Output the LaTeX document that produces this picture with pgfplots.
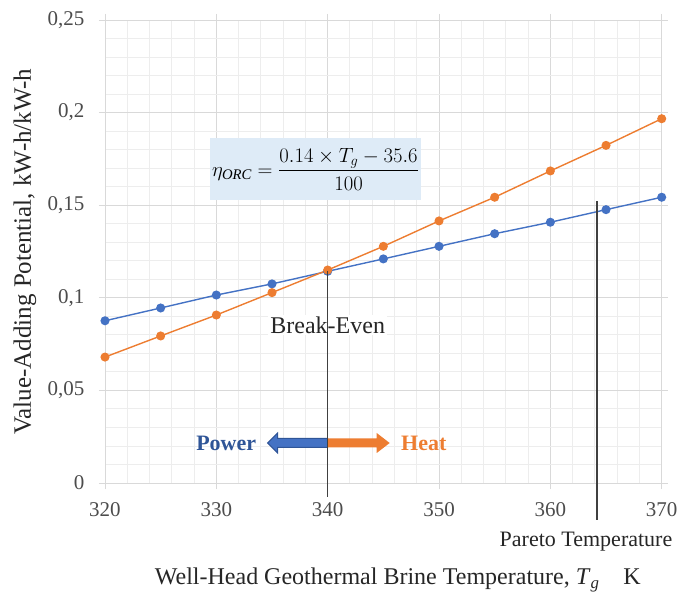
\documentclass[border=0pt]{standalone}
\usepackage{amsmath}
\usepackage{pgfplots}
\pgfplotsset{compat=1.18}
\usepackage{fontspec}
\setmainfont{Liberation Serif}
\definecolor{pw}{HTML}{4472C4}
\definecolor{pwdark}{HTML}{2F5597}
\definecolor{ht}{HTML}{ED7D31}
\definecolor{eqbg}{HTML}{DEEBF7}

\begin{document}
\begin{tikzpicture}
\useasboundingbox (-105bp,-117bp) rectangle (574bp,483bp);
\begin{axis}[
  at={(0,0)}, anchor=south west,
  scale only axis,
  width=556.7bp, height=463bp,
  xmin=320, xmax=370, ymin=0, ymax=0.25,
  xtick={320,330,...,370},
  ytick={0,0.05,0.1,0.15,0.2,0.25},
  minor x tick num=4, minor y tick num=4,
  grid=both,
  major grid style={draw=black!15, line width=0.9bp},
  minor grid style={draw=black!7, line width=0.9bp},
  axis line style={draw=black!15, line width=0.9bp},
  tick style={draw=black!15, line width=0.9bp},
  minor tick length=0pt, major tick length=6bp,
  tick align=outside,
  font=\fontsize{21bp}{25bp}\selectfont,
  tick label style={text=black!70, /pgf/number format/assume math mode=true},
  xticklabel style={yshift=-10bp},
  yticklabel style={xshift=-11bp, /pgf/number format/fixed,
    /pgf/number format/precision=2, /pgf/number format/use comma},
  scaled y ticks=false,
  clip=false,
]
% Power
\addplot[pw, line width=1.4bp, mark=*, mark size=3.8bp] coordinates {
  (320,0.0876) (325,0.0945) (330,0.1015) (335,0.1075) (340,0.1143) (345,0.1210)
  (350,0.1278) (355,0.1346) (360,0.1408) (365,0.1476) (370,0.1543)};
% Heat
\addplot[ht, line width=1.4bp, mark=*, mark size=3.8bp] coordinates {
  (320,0.0680) (325,0.0794) (330,0.0907) (335,0.1028) (340,0.1150) (345,0.1278)
  (350,0.1415) (355,0.1543) (360,0.1685) (365,0.1823) (370,0.1967)};

\coordinate (eq) at (axis cs:338.9,0.1695);
\coordinate (b) at (axis cs:340,0.0216);
\coordinate (bl) at (axis cs:340,0.0853);
\coordinate (btop) at (axis cs:340,0.1145);
\coordinate (bbot) at (axis cs:340,0);
\coordinate (ptop) at (axis cs:364.2,0.152);
\coordinate (pbot) at (axis cs:364.2,0);
\coordinate (plab) at (axis cs:363.2,0);
\coordinate (ylab) at (rel axis cs:0,0.5);
\coordinate (xlab) at (rel axis cs:0.526,0);
\end{axis}

% equation box
\node[fill=eqbg, minimum width=211bp, minimum height=62bp, inner sep=0pt,
  font=\fontsize{21bp}{25bp}\selectfont] at (eq)
  {$\eta_{\mathit{ORC}} = \dfrac{0.14\times T_g - 35.6}{100}$};

% arrows
\filldraw[fill=pw, draw=pwdark, line width=1bp] ([shift={(0bp,4.5bp)}]b) -- ([shift={(-50bp,4.5bp)}]b)
  -- ([shift={(-50bp,10bp)}]b) -- ([shift={(-60bp,0bp)}]b) -- ([shift={(-50bp,-10bp)}]b)
  -- ([shift={(-50bp,-4.5bp)}]b) -- ([shift={(0bp,-4.5bp)}]b) -- cycle;
\fill[ht] ([shift={(0bp,4.5bp)}]b) -- ([shift={(49bp,4.5bp)}]b)
  -- ([shift={(49bp,10bp)}]b) -- ([shift={(62bp,0bp)}]b) -- ([shift={(49bp,-10bp)}]b)
  -- ([shift={(49bp,-4.5bp)}]b) -- ([shift={(0bp,-4.5bp)}]b) -- cycle;
\node[text=pwdark, font=\fontsize{22bp}{26bp}\selectfont\bfseries, anchor=east]
  at ([xshift=-68bp]b) {Power};
\node[text=ht, font=\fontsize{22bp}{26bp}\selectfont\bfseries, anchor=west]
  at ([xshift=70bp]b) {Heat};

% break-even
\node[fill=white, inner sep=2bp, text=black!85, font=\fontsize{24bp}{28bp}\selectfont]
  at (bl) {Break-Even};
\draw[black!75, line width=1.5bp] (btop) -- ([yshift=-14bp]bbot);

% pareto
\draw[black!75, line width=1.5bp] (ptop) -- ([yshift=-37bp]pbot);
\node[text=black!85, font=\fontsize{22bp}{26bp}\selectfont]
  at ([yshift=-59bp]plab) {Pareto Temperature};

% axis labels
\node[text=black!85, rotate=90, font=\fontsize{25bp}{29bp}\selectfont]
  at ([xshift=-80bp]ylab) {Value-Adding Potential, kW-h/kW-h};
\node[text=black!85, font=\fontsize{24bp}{28bp}\selectfont] at ([yshift=-97bp]xlab)
  {Well-Head Geothermal Brine Temperature, \textit{T}\textsubscript{\textit{g}}\quad K};
\end{tikzpicture}
\end{document}
